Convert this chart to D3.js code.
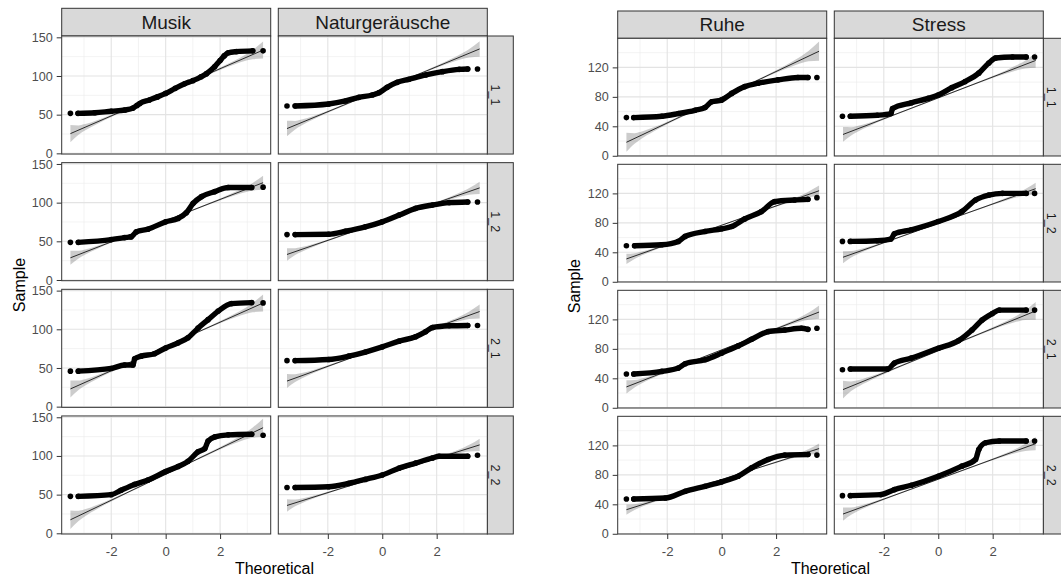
<!DOCTYPE html>
<html>
<head>
<meta charset="utf-8">
<script src="https://cdn.jsdelivr.net/npm/d3@7"></script>
<style>
  body { margin: 0; background: #fff; }
  text { font-family: "Liberation Sans", Arial, sans-serif; }
</style>
</head>
<body>
<svg id="chart" width="1061" height="580"></svg>
<script>
// facet labels and ticks
const rows = ["1_1", "1_2", "2_1", "2_2"];
const leftCols = ["Musik", "Naturgeräusche"];
const rightCols = ["Ruhe", "Stress"];
const xTicks = [-2, 0, 2];
const xMinor = [-3, -1, 1, 3];
const leftYTicks = [0, 50, 100, 150];
const leftYMinor = [25, 75, 125];
const rightYTicks = [0, 40, 80, 120];
const rightYMinor = [20, 60, 100, 140];

// theoretical range of the qq line, and band width profile (fraction of the end width)
const qqRange = [-3.5, 3.58];
const bandX = [-3.5, -3.2, -3, -2.5, -2, -1, 0, 1, 2, 2.5, 3, 3.2, 3.58];
const bandShape = [1, 0.55, 0.4, 0.22, 0.14, 0.09, 0.08, 0.09, 0.14, 0.22, 0.4, 0.55, 1];

// sample quantiles [theoretical, sample], one list per row
const musikQQ = [
  [[-3.5,51.7],[-3.22,51.7],[-2.6,52.5],[-2.0,54.5],[-1.5,56],[-1.2,58.5],[-1.05,62],[-0.95,64.5],[-0.6,69],[-0.3,73],[0,77.5],[0.35,84],[0.7,90],[1.0,94],[1.3,99],[1.5,103],[1.8,112],[2.0,120],[2.15,126],[2.3,130],[2.6,131.5],[3.2,132.5],[3.58,132.5]],
  [[-3.5,48.7],[-3.21,48.7],[-2.0,52.2],[-1.51,54.8],[-1.27,55.7],[-1.08,62.2],[-0.65,65.7],[0,75.2],[0.46,79.6],[0.76,87],[1.01,99.1],[1.32,107.8],[1.81,114.3],[2.3,119.6],[3.16,119.6],[3.58,120]],
  [[-3.5,45.9],[-3.21,45.9],[-2.0,49.4],[-1.51,53.8],[-1.2,53.8],[-1.14,61.8],[-0.9,65.3],[-0.41,68.4],[0,75.9],[0.46,82.5],[0.82,89.1],[1.19,101.5],[1.56,112.5],[1.93,123.5],[2.42,133.2],[3.16,134.5],[3.58,134.1]],
  [[-3.5,47.8],[-3.21,47.8],[-2.0,50],[-1.64,55.7],[-1.14,63.2],[-0.65,68.9],[0,79.8],[0.46,86.4],[0.82,93],[1.19,105.3],[1.44,109.6],[1.56,119.3],[1.81,124.6],[2.3,127.2],[3.16,128],[3.58,126.8]]
];
const natQQ = [
  [[-3.5,61.2],[-3.2,61.2],[-1.97,63.8],[-1.35,67.7],[-0.86,72.4],[-0.37,75.4],[-0.12,78.4],[0.18,85.3],[0.55,91.8],[0.98,95.7],[1.6,101.3],[2.21,105.6],[2.83,108.6],[3.14,109],[3.5,109]],
  [[-3.5,58.7],[-3.2,58.7],[-1.97,59.1],[-1.35,63],[-0.62,68.7],[0,75.2],[0.62,83.9],[1.23,92.6],[1.85,97],[2.46,100],[3.14,100.9],[3.5,100.9]],
  [[-3.5,59.5],[-3.2,59.5],[-1.97,60.9],[-1.23,65.3],[-0.62,70.6],[0,77.2],[0.62,84.7],[1.23,90.4],[1.6,97],[1.85,102.3],[2.46,104.5],[3.14,105],[3.5,105]],
  [[-3.5,59.2],[-3.2,59.2],[-1.97,60.1],[-1.23,64.5],[-0.62,69.7],[0,75.4],[0.62,84.2],[1.23,90.8],[1.85,97.4],[2.09,99.6],[3.14,99.6],[3.5,100.9]]
];
const ruheQQ = [
  [[-3.5,51.8],[-3.23,51.8],[-2.2,53.6],[-1.59,57.3],[-0.98,61.8],[-0.61,65.5],[-0.37,73.3],[0,75.6],[0.37,84.7],[0.85,93.9],[1.34,98.5],[2.07,103],[2.8,106.3],[3.17,106.3],[3.5,106.3]],
  [[-3.5,49],[-3.2,49],[-2.2,50.3],[-1.59,54.8],[-1.34,61.6],[-0.61,68.3],[0,71.9],[0.37,75],[0.85,85.4],[1.46,95.3],[1.95,108.8],[2.68,111],[3.17,111.9],[3.5,114.2]],
  [[-3.5,45.8],[-3.23,45.8],[-2.2,49.4],[-1.59,53.9],[-1.34,59.8],[-0.61,65.2],[0,74.2],[0.61,84],[1.1,93],[1.71,103.4],[2.32,105.6],[2.93,107.9],[3.17,106.5],[3.5,107.9]],
  [[-3.5,47.3],[-3.23,47.3],[-2.07,48.6],[-1.34,57.7],[-0.61,64.5],[0,70.5],[0.61,78.2],[1.1,89.5],[1.71,100.9],[2.32,106.8],[3.17,107.7],[3.5,106.8]]
];
const stressQQ = [
  [[-3.52,53.6],[-3.23,53.6],[-2.24,55],[-1.74,57.3],[-1.68,64.1],[-0.99,71.9],[-0.37,77.9],[0,82.5],[0.5,92.5],[0.99,100.8],[1.49,112.2],[1.86,126],[2.11,132.8],[2.73,134.2],[3.23,134.2],[3.54,134.2]],
  [[-3.52,54.8],[-3.23,54.8],[-2.24,55.7],[-1.74,58],[-1.61,65.2],[-0.99,70.6],[0,81.8],[0.87,95.3],[1.37,111],[1.86,117.8],[2.36,120],[3.23,120],[3.54,120]],
  [[-3.52,51.7],[-3.23,52.6],[-1.86,52.6],[-1.61,60.7],[-0.99,67.4],[0,80.9],[0.75,91.2],[1.24,105.6],[1.61,119.1],[1.99,128],[2.24,132.6],[3.23,132.6],[3.54,132.6]],
  [[-3.52,51.8],[-3.23,51.8],[-2.11,53.2],[-1.61,60],[-0.99,65.9],[0,78.2],[0.87,91.8],[1.37,100.9],[1.49,114.5],[1.74,123.6],[2.24,125.9],[3.23,125.9],[3.54,125.9]]
];

// qq line: sample value at qqRange[0] and qqRange[1]
const musikLine = [[25.5,133.5],[28.7,125.8],[22.9,134],[17.5,136.5]];
const natLine = [[32,135],[33,119.1],[33.1,123],[36,114.3]];
const ruheLine = [[18.3,142],[31,123.6],[28.3,130],[32.7,115.7]];
const stressLine = [[28.9,129.4],[33.3,126.4],[24.7,131.5],[26.8,122.4]];
// half width of the confidence band at the ends
const musikBand = [11, 9, 11, 12];
const natBand = [10, 8, 9, 8];
const ruheBand = [13, 7, 9, 7];
const stressBand = [10, 8, 12, 9];

const svg = d3.select("#chart");

function drawFacets(p) {
    const colScale = d3.scaleBand().domain(p.cols).range(p.colRange).paddingInner(p.colPad);
    const rowScale = d3.scaleBand().domain(rows).range(p.rowRange).paddingInner(p.rowPad);
    const w = colScale.bandwidth(), h = rowScale.bandwidth();

    const x = d3.scaleLinear().domain([-3.82, 3.86]).range([0, w]);
    const y = d3.scaleLinear().domain(p.yDomain).range([h, 0]);
    const g = svg.append("g");

    // column strips
    p.cols.forEach(c => {
        g.append("rect")
            .attr("x", colScale(c)).attr("y", p.stripTop)
            .attr("width", w).attr("height", p.rowRange[0] - p.stripTop)
            .attr("fill", "#D9D9D9").attr("stroke", "#333").attr("stroke-width", 1);
        g.append("text")
            .attr("x", colScale(c) + w / 2)
            .attr("y", (p.stripTop + p.rowRange[0]) / 2)
            .attr("dy", "0.35em")
            .attr("text-anchor", "middle")
            .style("font-size", "19px")
            .attr("fill", "#1A1A1A")
            .text(c);
    });

    rows.forEach((r, ri) => {
        // row strip
        const sx = p.colRange[1];
        g.append("rect")
            .attr("x", sx).attr("y", rowScale(r))
            .attr("width", 26).attr("height", h)
            .attr("fill", "#D9D9D9").attr("stroke", "#333").attr("stroke-width", 1);
        g.append("text")
            .attr("transform", `translate(${sx + 8},${rowScale(r) + h / 2}) rotate(90)`)
            .attr("dy", "0.35em")
            .attr("text-anchor", "middle")
            .style("font-size", "12.5px")
            .attr("fill", "#1A1A1A")
            .text(r);

        p.cols.forEach((c, ci) => {
            const qq = p.qq[ci][ri];
            const ends = p.lines[ci][ri];
            const bandEnd = p.bands[ci][ri];
            const panel = g.append("g")
                .attr("transform", `translate(${colScale(c)},${rowScale(r)})`);

            panel.append("rect").attr("width", w).attr("height", h).attr("fill", "#fff");

            // grid
            panel.selectAll(".gxm").data(xMinor).join("line")
                .attr("x1", d => x(d)).attr("x2", d => x(d)).attr("y1", 0).attr("y2", h)
                .attr("stroke", "#EBEBEB").attr("stroke-width", 0.6);
            panel.selectAll(".gym").data(p.yMinor).join("line")
                .attr("y1", d => y(d)).attr("y2", d => y(d)).attr("x1", 0).attr("x2", w)
                .attr("stroke", "#EBEBEB").attr("stroke-width", 0.6);
            panel.selectAll(".gx").data(xTicks).join("line")
                .attr("x1", d => x(d)).attr("x2", d => x(d)).attr("y1", 0).attr("y2", h)
                .attr("stroke", "#E3E3E3").attr("stroke-width", 1.1);
            panel.selectAll(".gy").data(p.yTicks).join("line")
                .attr("y1", d => y(d)).attr("y2", d => y(d)).attr("x1", 0).attr("x2", w)
                .attr("stroke", "#E3E3E3").attr("stroke-width", 1.1);

            // qq line and confidence band
            const lineY = d3.scaleLinear().domain(qqRange).range(ends);
            const band = d3.area()
                .x((d, i) => x(bandX[i]))
                .y0((d, i) => y(lineY(bandX[i]) - bandEnd * bandShape[i]))
                .y1((d, i) => y(lineY(bandX[i]) + bandEnd * bandShape[i]))
                .curve(d3.curveMonotoneX);
            panel.append("path").datum(bandX)
                .attr("d", band)
                .attr("fill", "#000").attr("fill-opacity", 0.2);
            panel.append("line")
                .attr("x1", x(qqRange[0])).attr("y1", y(ends[0]))
                .attr("x2", x(qqRange[1])).attr("y2", y(ends[1]))
                .attr("stroke", "#000").attr("stroke-width", 0.8);

            // dense points: run drawn as a thick path, ends as single dots
            const run = d3.line().x(d => x(d[0])).y(d => y(d[1])).curve(d3.curveMonotoneX);
            panel.append("path").datum(qq.slice(1, -1))
                .attr("d", run)
                .attr("fill", "none").attr("stroke", "#000")
                .attr("stroke-width", 5.4)
                .attr("stroke-linecap", "round").attr("stroke-linejoin", "round");
            panel.selectAll(".pt").data(qq).join("circle")
                .attr("cx", d => x(d[0])).attr("cy", d => y(d[1]))
                .attr("r", 2.8).attr("fill", "#000");

            panel.append("rect").attr("width", w).attr("height", h)
                .attr("fill", "none").attr("stroke", "#333").attr("stroke-width", 1);

            if (ci == 0) {
                const ay = panel.append("g")
                    .call(d3.axisLeft(y).tickValues(p.yTicks).tickSize(5).tickPadding(4)
                        .tickFormat(d => String(d)));
                ay.select(".domain").remove();
                ay.selectAll("line").attr("stroke", "#333");
                ay.selectAll("text").style("font-size", "12.6px").attr("fill", "#4D4D4D");
            }
            if (ri == rows.length - 1) {
                const ax = panel.append("g")
                    .attr("transform", `translate(0,${h})`)
                    .call(d3.axisBottom(x).tickValues(xTicks).tickSize(5).tickPadding(7.5)
                        .tickFormat(d => String(d)));
                ax.select(".domain").remove();
                ax.selectAll("line").attr("stroke", "#333");
                ax.selectAll("text").style("font-size", "13.2px").attr("fill", "#4D4D4D");
            }
        });
    });

    // axis titles
    g.append("text")
        .attr("x", (p.colRange[0] + p.colRange[1]) / 2)
        .attr("y", 574)
        .attr("text-anchor", "middle")
        .style("font-size", "16px")
        .attr("fill", "#000")
        .text("Theoretical");
    g.append("text")
        .attr("transform", `translate(${p.sampleX},${(p.rowRange[0] + p.rowRange[1]) / 2}) rotate(-90)`)
        .attr("text-anchor", "middle")
        .style("font-size", "16px")
        .attr("fill", "#000")
        .text("Sample");
}

drawFacets({
    cols: leftCols,
    colRange: [61.7, 487.3], colPad: 0.035,
    rowRange: [36, 534], rowPad: 0.068,
    stripTop: 8.3,
    yDomain: [-0.9, 151.7], yTicks: leftYTicks, yMinor: leftYMinor,
    qq: [musikQQ, natQQ], lines: [musikLine, natLine], bands: [musikBand, natBand],
    sampleX: 24.5
});

drawFacets({
    cols: rightCols,
    colRange: [617.7, 1043.3], colPad: 0.035,
    rowRange: [38.3, 534], rowPad: 0.066,
    stripTop: 11,
    yDomain: [-0.3, 159.5], yTicks: rightYTicks, yMinor: rightYMinor,
    qq: [ruheQQ, stressQQ], lines: [ruheLine, stressLine], bands: [ruheBand, stressBand],
    sampleX: 580
});
</script>
</body>
</html>
